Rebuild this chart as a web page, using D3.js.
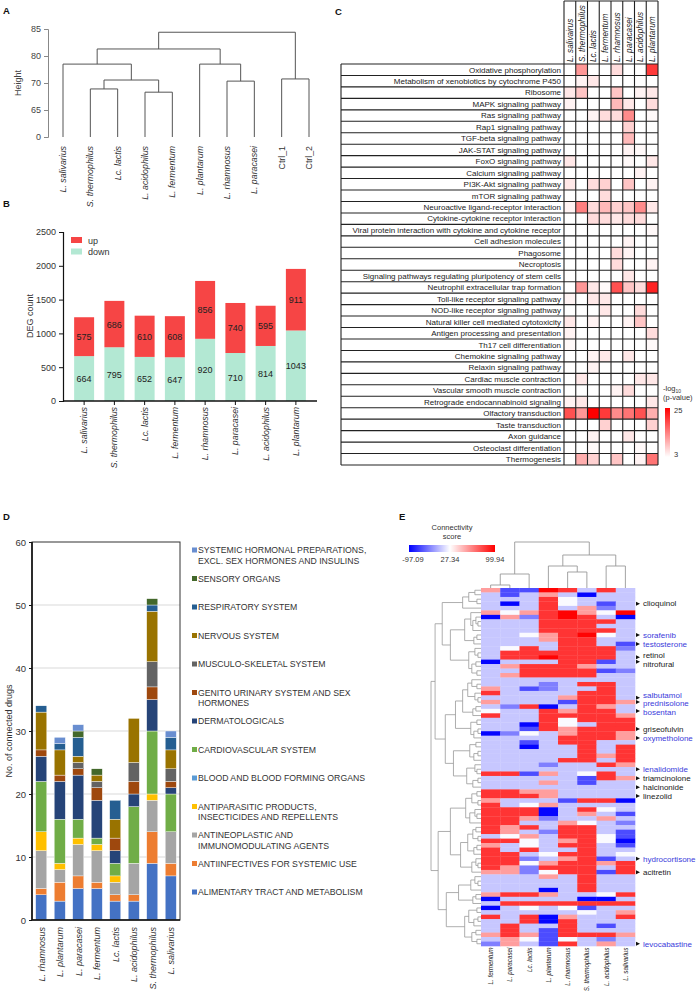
<!DOCTYPE html>
<html><head><meta charset="utf-8">
<script src="https://cdn.jsdelivr.net/npm/d3@7"></script>
<style>body{margin:0;background:#fff}svg{display:block}text{font-family:"Liberation Sans",Arial,sans-serif}</style>
</head><body><svg id="c" width="698" height="991"></svg>
<script>
// ---------------- DATA ----------------
// Panel A: hierarchical clustering (leaf order + merge height between adjacent leaves)
const dendroLeaves = ["L. salivarius","S. thermophilus","Lc. lactis","L. acidophilus","L. fermentum","L. plantarum","L. rhamnosus","L. paracasei","Ctrl_1","Ctrl_2"];
const dendroGapHeights = [77.0, 68.9, 71.1, 68.3, 81.3, 77.0, 70.7, 84.4, 71.5];
const heightTicks = [0, 65, 70, 80, 85];

// Panel B: DEG counts
const degStrains = ["L. salivarius","S. thermophilus","Lc. lactis","L. fermentum","L. rhamnosus","L. paracasei","L. acidophilus","L. plantarum"];
const degDown = [664, 795, 652, 647, 920, 710, 814, 1043];
const degUp   = [575, 686, 610, 608, 856, 740, 595, 911];
const degTicks = [0, 500, 1000, 1500, 2000, 2500];

// Panel C: KEGG enrichment, -log10(p-value)
const keggStrains = ["L. salivairus","S. thermophilus","Lc. lactis","L. fermentum","L. rhamnosus","L. paracasei","L. acidophilus","L. plantarum"];
const keggPathways = ["Oxidative phosphorylation","Metabolism of xenobiotics by cytochrome P450","Ribosome","MAPK signaling pathway","Ras signaling pathway","Rap1 signaling pathway","TGF-beta signaling pathway","JAK-STAT signaling pathway","FoxO signaling pathway","Calcium signaling pathway","PI3K-Akt signaling pathway","mTOR signaling pathway","Neuroactive ligand-receptor interaction","Cytokine-cytokine receptor interaction","Viral protein interaction with cytokine and cytokine receptor","Cell adhesion molecules","Phagosome","Necroptosis","Signaling pathways regulating pluripotency of stem cells","Neutrophil extracellular trap formation","Toll-like receptor signaling pathway","NOD-like receptor signaling pathway","Natural killer cell mediated cytotoxicity","Antigen processing and presentation","Th17 cell differentiation","Chemokine signaling pathway","Relaxin signaling pathway","Cardiac muscle contraction","Vascular smooth muscle contraction","Retrograde endocannabinoid signaling","Olfactory transduction","Taste transduction","Axon guidance","Osteoclast differentiation","Thermogenesis"];
const keggValues = [
 [0,12,0,0,6,0,0,20],
 [0,4,5,0,0,0,0,0],
 [5,8,0,0,8,0,4,5],
 [4,0,0,0,9,5,0,6],
 [0,0,4,6,6,13,0,3.5],
 [0,0,0,0,0,7,0,0],
 [0,0,0,0,0,9,0,0],
 [0,0,0,0,0,4,3.5,0],
 [5,0,0,0,0,3.5,0,5],
 [0,0,0,0,0,0,4,0],
 [5,0,6,7,0,8,0,4],
 [0,0,0,6,0,0,0,0],
 [4,14,6,9,7,8,13,5],
 [0,0,6,6,5,6,6,0],
 [0,0,0,0,0,0,0,3.5],
 [0,0,0,0,0,4,0,0],
 [0,0,0,0,6,4,0,0],
 [0,0,0,0,6,0,0,4],
 [0,0,0,0,0,5,0,0],
 [0,12,5,3.5,18,8,6,22],
 [4,0,5,5,0,0,0,0],
 [0,0,0,5,0,0,6,0],
 [5,0,4,0,0,4,8,0],
 [4,0,0,0,0,0,0,6],
 [3.5,0,0,0,0,0,0,3.5],
 [0,0,4,5,0,5,0,0],
 [0,0,4,0,0,0,0,0],
 [0,5,0,0,0,0,5,5],
 [0,0,0,0,4,6,0,0],
 [4,5,0,0,0,0,0,5],
 [18,12,25,20,13,15,18,10],
 [0,0,0,7,0,0,0,7],
 [0,0,4,0,0,5,0,0],
 [0,0,3.5,0,0,0,3.5,0],
 [0,10,7,0,8,0,4,15]
];
const keggLegendTicks = [3, 25];

// Panel D: connected drugs by ATC class (stack order bottom -> top)
const drugStrains = ["L. rhamnosus","L. plantarum","L. paracasei","L. fermentum","Lc. lactis","L. acidophilus","S. thermophilus","L. salivarius"];
const atcClasses = ["ALIMENTARY TRACT AND METABOLISM","ANTIINFECTIVES FOR SYSTEMIC USE","ANTINEOPLASTIC AND IMMUNOMODULATING AGENTS","ANTIPARASITIC PRODUCTS, INSECTICIDES AND REPELLENTS","BLOOD AND BLOOD FORMING ORGANS","CARDIOVASCULAR SYSTEM","DERMATOLOGICALS","GENITO URINARY SYSTEM AND SEX HORMONES","MUSCULO-SKELETAL SYSTEM","NERVOUS SYSTEM","RESPIRATORY SYSTEM","SENSORY ORGANS","SYSTEMIC HORMONAL PREPARATIONS, EXCL. SEX HORMONES AND INSULINS"];
const cntAlimentary   = [4,3,5,5,3,3,9,7];
const cntAntiinfect   = [1,3,2,1,1,1,5,2];
const cntAntineoplast = [6,2,5,5,2,5,5,5];
const cntAntiparasit  = [3,1,1,1,1,0,1,0];
const cntBlood        = [0,0,0,0,0,0,0,0];
const cntCardio       = [8,7,3,1,2,9,10,6];
const cntDermato      = [4,6,7,6,2,2,5,1];
const cntGenito       = [1,1,1,2,2,2,2,1];
const cntMusculo      = [0,0,1,1,0,3,4,2];
const cntNervous      = [6,4,1,1,3,7,8,3];
const cntRespiratory  = [1,1,3,0,3,0,1,2];
const cntSensory      = [0,0,1,1,0,0,1,0];
const cntSystemicHorm = [0,1,1,0,0,0,0,1];
const drugTicks = [0,10,20,30,40,50,60];

// Panel E: connectivity score heatmap
const eCols = ["L. fermentum","L. paracasei","Lc. lactis","L. plantarum","L. rhamnosus","S. thermophilus","L. acidophilus","L. salivarius"];
const eColGapHeights = [3,14,46,22,16,33,22];
const eScoreTicks = [-97.09, 27.34, 99.94];
const eScores = [
 [55,-60,-60,99,85,0,85,0],
 [0,-60,0,55,0,-95,0,0],
 [0,0,0,85,25,0,0,0],
 [0,-95,0,85,25,0,-60,0],
 [0,0,0,85,0,55,-35,0],
 [55,25,55,85,99,55,25,99],
 [-95,55,-35,85,99,85,0,-95],
 [0,0,0,85,85,85,85,0],
 [0,0,0,85,85,85,0,0],
 [0,0,0,85,85,85,85,0],
 [0,0,25,55,85,99,25,0],
 [0,0,0,55,85,85,0,0],
 [0,0,0,0,85,85,0,-60],
 [0,25,85,0,85,85,85,-35],
 [0,85,85,85,85,85,85,0],
 [0,85,85,99,85,85,85,0],
 [-95,0,0,0,85,85,-60,0],
 [0,55,85,85,85,55,0,0],
 [0,0,85,85,85,85,-60,-35],
 [0,55,85,85,85,85,0,0],
 [0,0,0,0,0,0,0,0],
 [0,0,0,-35,0,85,85,0],
 [55,0,-60,-35,0,0,85,0],
 [85,0,0,0,0,85,85,0],
 [0,0,0,0,55,85,85,0],
 [55,0,0,0,-60,85,85,55],
 [0,-35,85,-95,0,85,55,0],
 [25,0,0,85,55,85,85,0],
 [85,0,0,85,85,85,85,55],
 [0,0,0,85,25,85,85,85],
 [0,0,-95,85,25,0,85,85],
 [0,0,-60,85,55,85,85,85],
 [-95,-35,25,0,55,85,85,55],
 [0,0,0,0,85,85,85,55],
 [0,0,-60,0,85,85,0,0],
 [0,0,-95,0,0,85,0,85],
 [0,0,0,0,0,85,0,85],
 [0,0,0,0,0,85,55,85],
 [0,0,0,0,85,85,0,85],
 [0,0,0,-35,0,0,85,55],
 [0,0,0,0,0,0,0,0],
 [85,85,-60,55,0,25,85,0],
 [0,0,0,0,0,-60,85,55],
 [0,0,0,55,0,-60,0,0],
 [0,0,0,0,0,0,0,0],
 [85,85,55,55,0,0,0,0],
 [85,85,85,55,0,0,0,0],
 [55,0,0,0,-60,85,85,-95],
 [85,0,25,55,0,0,0,0],
 [85,85,85,-95,0,85,25,0],
 [85,85,85,-95,0,55,0,-60],
 [85,85,55,-35,0,0,55,0],
 [85,85,0,0,55,25,0,-35],
 [85,55,85,0,85,85,0,0],
 [85,55,0,-35,85,85,0,-60],
 [0,25,55,0,85,85,25,-60],
 [85,85,25,0,55,85,25,-95],
 [55,0,25,0,85,85,0,-60],
 [85,0,85,0,0,85,0,0],
 [85,85,0,25,85,85,0,25],
 [85,85,-35,0,55,85,-60,0],
 [85,85,25,55,85,85,55,85],
 [85,55,-35,85,85,85,0,85],
 [55,55,-35,25,85,85,-60,85],
 [0,0,0,55,0,85,0,0],
 [0,0,0,0,0,85,0,0],
 [0,0,0,0,0,85,0,0],
 [0,0,0,-95,0,85,0,0],
 [55,85,85,55,0,0,25,85],
 [-95,0,0,0,0,-95,-95,0],
 [0,85,85,85,85,85,85,85],
 [-95,0,25,0,25,-60,0,0],
 [0,0,0,0,0,25,0,55],
 [85,0,85,-95,55,0,0,85],
 [0,0,85,-95,85,0,0,0],
 [0,85,0,0,85,0,-60,0],
 [0,85,0,-60,85,0,0,0],
 [55,85,55,-60,85,85,85,55],
 [0,55,25,-60,25,0,-35,0],
 [-35,55,0,-60,85,0,55,0]
];
const eRowGapHeights = [6,12,4,18,38,10,5,3,8,16,4,7,30,6,3,12,5,9,4,45,9,4,13,6,3,18,5,8,25,4,10,3,7,35,5,11,3,7,27,6,4,14,3,8,49,4,9,3,15,6,4,11,30,5,8,3,13,4,7,20,5,3,9,42,6,3,10,22,5,8,34,4,12,3,7,16,5,9,4];
const eLabelNames = ["clioquinol","sorafenib","testosterone","retinol","nitrofural","salbutamol","prednisolone","bosentan","griseofulvin","oxymetholone","lenalidomide","triamcinolone","halcinonide","linezolid","hydrocortisone","acitretin","levocabastine"];
const eLabelRows  = [3,10,12,15,16,24,25,27,31,33,40,42,44,46,60,63,79];
const eHighlighted = ["sorafenib","testosterone","salbutamol","prednisolone","bosentan","oxymetholone","lenalidomide","hydrocortisone","levocabastine"];

// ---------------- HELPERS ----------------
const svg = d3.select("#c");
function letter(t,x,y){svg.append("text").attr("x",x).attr("y",y).attr("font-size",9.5).attr("font-weight","bold").attr("fill","#111").text(t);}
function buildTree(lo,hi,g){
  if(lo===hi) return {isLeaf:true,idx:lo,h:0};
  let k=lo; for(let i=lo;i<hi;i++) if(g[i]>g[k]) k=i;
  return {isLeaf:false,h:g[k],a:buildTree(lo,k,g),b:buildTree(k+1,hi,g)};
}
function layout(n,pos){ if(n.isLeaf){n.p=pos(n.idx);} else {layout(n.a,pos);layout(n.b,pos);n.p=(n.a.p+n.b.p)/2;} return n;}
function paths(n,out,vert,hs){
  if(n.isLeaf) return out;
  if(vert) out.push(`M${n.a.p},${hs(n.a.h)}V${hs(n.h)}H${n.b.p}V${hs(n.b.h)}`);
  else out.push(`M${hs(n.a.h)},${n.a.p}H${hs(n.h)}V${n.b.p}H${hs(n.b.h)}`);
  paths(n.a,out,vert,hs); paths(n.b,out,vert,hs); return out;
}

// ---------------- PANEL A ----------------
letter("A",3,14);
{
  const top=29,bot=137;
  const yA=d3.scaleLinear().domain(heightTicks).range(heightTicks.map((d,i)=>bot-i*(bot-top)/(heightTicks.length-1)));
  const xA=d3.scalePoint().domain(dendroLeaves).range([63,309]);
  const tree=layout(buildTree(0,dendroLeaves.length-1,dendroGapHeights),i=>xA(dendroLeaves[i]));
  svg.append("g").selectAll("path").data(paths(tree,[],true,yA)).join("path")
    .attr("d",d=>d).attr("fill","none").attr("stroke","#555").attr("stroke-width",1);
  const ax=svg.append("g").attr("transform","translate(48,0)").call(d3.axisLeft(yA).tickValues(heightTicks).tickSize(4).tickFormat(d3.format("d")));
  ax.selectAll("path,line").attr("stroke","#888");
  ax.selectAll("text").attr("font-size",9).attr("fill","#444").attr("font-family",'"Liberation Sans",Arial');
  svg.append("text").attr("transform","translate(21,83) rotate(-90)").attr("text-anchor","middle").attr("font-size",9).attr("fill","#444").text("Height");
  svg.append("g").selectAll("text").data(dendroLeaves).join("text")
    .attr("transform",d=>`translate(${xA(d)+3},146) rotate(-90)`).attr("text-anchor","end")
    .attr("font-size",8.8).attr("fill","#333").attr("font-style",d=>d.startsWith("Ctrl")?"normal":"italic").text(d=>d);
}

// ---------------- PANEL B ----------------
letter("B",3,207);
{
  const xB=d3.scaleBand().domain(degStrains).range([69,311]).paddingInner(0.34).paddingOuter(0.17);
  const yB=d3.scaleLinear().domain([0,2500]).range([401,232]);
  const g=svg.append("g");
  degStrains.forEach((s,i)=>{
    g.append("rect").attr("x",xB(s)).attr("width",xB.bandwidth()).attr("y",yB(degDown[i])).attr("height",yB(0)-yB(degDown[i])).attr("fill","#b3e8d3");
    g.append("rect").attr("x",xB(s)).attr("width",xB.bandwidth()).attr("y",yB(degDown[i]+degUp[i])).attr("height",yB(degDown[i])-yB(degDown[i]+degUp[i])).attr("fill","#f64545");
    g.append("text").attr("x",xB(s)+xB.bandwidth()/2).attr("y",(yB(degDown[i])+yB(degDown[i]+degUp[i]))/2+3.5).attr("text-anchor","middle").attr("font-size",9).attr("fill","#222").text(degUp[i]);
    g.append("text").attr("x",xB(s)+xB.bandwidth()/2).attr("y",(yB(0)+yB(degDown[i]))/2+3.5).attr("text-anchor","middle").attr("font-size",9).attr("fill","#222").text(degDown[i]);
  });
  const ax=svg.append("g").attr("transform","translate(63,0)").call(d3.axisLeft(yB).tickValues(degTicks).tickSize(4).tickFormat(d3.format("d")));
  ax.select(".domain").attr("stroke","#111").attr("stroke-width",1.2);
  ax.selectAll("line").attr("stroke","#111");
  ax.selectAll("text").attr("font-size",9).attr("fill","#333").attr("font-family",'"Liberation Sans",Arial');
  svg.append("line").attr("x1",63).attr("x2",317).attr("y1",yB(0)).attr("y2",yB(0)).attr("stroke","#111").attr("stroke-width",1.3);
  svg.append("g").selectAll("line").data(degStrains).join("line").attr("x1",d=>xB(d)+xB.bandwidth()/2).attr("x2",d=>xB(d)+xB.bandwidth()/2).attr("y1",yB(0)).attr("y2",yB(0)+4).attr("stroke","#111");
  svg.append("g").selectAll("text").data(degStrains).join("text")
    .attr("transform",d=>`translate(${xB(d)+xB.bandwidth()/2+3},407) rotate(-90)`).attr("text-anchor","end")
    .attr("font-size",8.8).attr("font-style","italic").attr("fill","#333").text(d=>d);
  svg.append("text").attr("transform","translate(33,316) rotate(-90)").attr("text-anchor","middle").attr("font-size",9).attr("fill","#333").text("DEG count");
  const leg=[["up","#f64545"],["down","#b3e8d3"]];
  leg.forEach((l,i)=>{
    svg.append("rect").attr("x",71).attr("y",237+i*11.5).attr("width",11).attr("height",6).attr("fill",l[1]);
    svg.append("text").attr("x",88).attr("y",243.5+i*11.5).attr("font-size",9).attr("fill","#333").text(l[0]);
  });
}

// ---------------- PANEL C ----------------
letter("C",335,15);
{
  const left=341, split=564, right=658, top=64, bottom=465;
  const xC=d3.scaleBand().domain(keggStrains).range([split,right]);
  const yC=d3.scaleBand().domain(keggPathways).range([top,bottom]);
  const col=d3.scaleLinear().domain(keggLegendTicks).range(["#ffffff","#ff0000"]).clamp(true);
  const g=svg.append("g");
  keggPathways.forEach((p,r)=>{
    keggStrains.forEach((s,c)=>{
      const v=keggValues[r][c];
      g.append("rect").attr("x",xC(s)).attr("y",yC(p)).attr("width",xC.bandwidth()).attr("height",yC.bandwidth()).attr("fill",v>=3?col(v):"#fff");
    });
    g.append("text").attr("x",split-3).attr("y",yC(p)+yC.bandwidth()/2+2.8).attr("text-anchor","end").attr("font-size",8).attr("fill","#222").text(p);
  });
  const lines=svg.append("g").attr("stroke","#222").attr("stroke-width",1.1);
  keggPathways.concat(["__end"]).forEach((p,i)=>{
    const y=top+i*yC.step();
    lines.append("line").attr("x1",left).attr("x2",right).attr("y1",y).attr("y2",y);
  });
  lines.append("line").attr("x1",left).attr("x2",left).attr("y1",top).attr("y2",bottom);
  keggStrains.concat(["__end"]).forEach((s,i)=>{
    const x=split+i*xC.step();
    lines.append("line").attr("x1",x).attr("x2",x).attr("y1",1).attr("y2",bottom);
  });
  lines.append("line").attr("x1",split).attr("x2",right).attr("y1",1).attr("y2",1);
  svg.append("g").selectAll("text").data(keggStrains).join("text")
    .attr("transform",d=>`translate(${xC(d)+xC.bandwidth()/2+3},62) rotate(-90)`).attr("text-anchor","start")
    .attr("font-size",8.2).attr("font-style","italic").attr("fill","#222").text(d=>d);
  // legend
  const defs=svg.append("defs");
  const gr=defs.append("linearGradient").attr("id","gC").attr("x1",0).attr("y1",1).attr("x2",0).attr("y2",0);
  gr.append("stop").attr("offset","0%").attr("stop-color","#ffffff");
  gr.append("stop").attr("offset","100%").attr("stop-color","#ff0000");
  const ly=d3.scaleLinear().domain(keggLegendTicks).range([457,408]);
  svg.append("rect").attr("x",665).attr("y",ly(25)).attr("width",5).attr("height",ly(3)-ly(25)).attr("fill","url(#gC)");
  keggLegendTicks.forEach(t=>svg.append("text").attr("x",674).attr("y",ly(t)+(t===25?5:0)).attr("font-size",7.5).attr("fill","#333").text(t));
  const lt=svg.append("text").attr("x",663).attr("y",391).attr("font-size",7.5).attr("fill","#333");
  lt.append("tspan").text("-log");
  lt.append("tspan").attr("font-size",5).attr("dy",2).text("10");
  svg.append("text").attr("x",663).attr("y",400).attr("font-size",7.5).attr("fill","#333").text("(p-value)");
}

// ---------------- PANEL D ----------------
letter("D",3,520);
{
  const L=32,R=180,T=542,B=920;
  const xD=d3.scaleBand().domain(drugStrains).range([L,R]).paddingInner(0.4).paddingOuter(0.2);
  const yD=d3.scaleLinear().domain([0,60]).range([B,T]);
  const atcColors=["#4472c4","#ed7d31","#a5a5a5","#ffc000","#5b9bd5","#70ad47","#264478","#9e480e","#636363","#997300","#255e91","#43682b","#698ed0"];
  const series=[cntAlimentary,cntAntiinfect,cntAntineoplast,cntAntiparasit,cntBlood,cntCardio,cntDermato,cntGenito,cntMusculo,cntNervous,cntRespiratory,cntSensory,cntSystemicHorm];
  const rows=drugStrains.map((s,i)=>{const o={strain:s}; atcClasses.forEach((c,k)=>o[c]=series[k][i]); return o;});
  const stack=d3.stack().keys(atcClasses)(rows);
  svg.append("g").selectAll("line").data(drugTicks.filter(t=>t>0&&t<60)).join("line")
    .attr("x1",L).attr("x2",R).attr("y1",d=>yD(d)).attr("y2",d=>yD(d)).attr("stroke","#d9d9d9").attr("stroke-width",1);
  svg.append("g").selectAll("g").data(stack).join("g").attr("fill",(d,i)=>atcColors[i])
    .selectAll("rect").data(d=>d.filter(v=>v[1]>v[0])).join("rect")
    .attr("x",d=>xD(d.data.strain)).attr("width",xD.bandwidth()).attr("y",d=>yD(d[1])).attr("height",d=>yD(d[0])-yD(d[1]))
    .attr("stroke","#ffffff").attr("stroke-width",0.4);
  svg.append("rect").attr("x",L).attr("y",T).attr("width",R-L).attr("height",B-T).attr("fill","none").attr("stroke","#333").attr("stroke-width",1);
  svg.append("line").attr("x1",L).attr("x2",L).attr("y1",T).attr("y2",B).attr("stroke","#111").attr("stroke-width",1.6);
  svg.append("line").attr("x1",L).attr("x2",R).attr("y1",B).attr("y2",B).attr("stroke","#111").attr("stroke-width",1.6);
  const ax=svg.append("g").attr("transform",`translate(${L},0)`).call(d3.axisLeft(yD).tickValues(drugTicks).tickSize(3));
  ax.select(".domain").remove();
  ax.selectAll("line").attr("stroke","#111");
  ax.selectAll("text").attr("font-size",9.5).attr("fill","#333").attr("font-family",'"Liberation Sans",Arial');
  svg.append("text").attr("transform",`translate(12,${(T+B)/2}) rotate(-90)`).attr("text-anchor","middle").attr("font-size",9).attr("fill","#333").text("No. of connected drugs");
  svg.append("g").selectAll("text").data(drugStrains).join("text")
    .attr("transform",d=>`translate(${xD(d)+xD.bandwidth()/2+3.3},927) rotate(-90)`).attr("text-anchor","end")
    .attr("font-size",9).attr("font-style","italic").attr("fill","#333").text(d=>d);
  // legend (top item = last class)
  const legG=svg.append("g");
  atcClasses.slice().reverse().forEach((c,i)=>{
    const y=553+i*28.5;
    const ci=atcClasses.length-1-i;
    legG.append("rect").attr("x",192).attr("y",y-5.5).attr("width",5).attr("height",5).attr("fill",atcColors[ci]);
    const t=legG.append("text").attr("x",198).attr("y",y).attr("font-size",8.7).attr("fill","#333");
    const words=c.split(" "); let line=[]; let tsp=t.append("tspan").attr("x",198);
    words.forEach(w=>{
      line.push(w); tsp.text(line.join(" "));
      if(tsp.node().getComputedTextLength()>181 && line.length>1){
        line.pop(); tsp.text(line.join(" ")); line=[w];
        tsp=t.append("tspan").attr("x",198).attr("dy",10.5).text(w);
      }
    });
  });
}

// ---------------- PANEL E ----------------
letter("E",399,520);
{
  const L=481,R=635,T=588,B=946;
  const xE=d3.scaleBand().domain(eCols).range([L,R]);
  const yE=d3.scaleBand().domain(d3.range(eScores.length)).range([T,B]);
  const col=d3.scaleLinear().domain(eScoreTicks).range(["#0000ff","#ffffff","#ff0000"]).clamp(true);
  const g=svg.append("g");
  eScores.forEach((row,r)=>row.forEach((v,c)=>{
    g.append("rect").attr("x",xE(eCols[c])).attr("y",yE(r)).attr("width",xE.bandwidth()+0.3).attr("height",yE.bandwidth()+0.3).attr("fill",col(v));
  }));
  // column dendrogram
  const hC=d3.scaleLinear().domain([0,d3.max(eColGapHeights)]).range([T,T-46]);
  const ct=layout(buildTree(0,eCols.length-1,eColGapHeights),i=>xE(eCols[i])+xE.bandwidth()/2);
  svg.append("g").selectAll("path").data(paths(ct,[],true,hC)).join("path").attr("d",d=>d).attr("fill","none").attr("stroke","#999").attr("stroke-width",0.9);
  // row dendrogram
  const hR=d3.scaleLinear().domain([0,d3.max(eRowGapHeights)]).range([L,431]);
  const rt=layout(buildTree(0,eScores.length-1,eRowGapHeights),i=>yE(i)+yE.bandwidth()/2);
  svg.append("g").selectAll("path").data(paths(rt,[],false,hR)).join("path").attr("d",d=>d).attr("fill","none").attr("stroke","#999").attr("stroke-width",0.8);
  // column labels
  svg.append("g").selectAll("text").data(eCols).join("text")
    .attr("transform",d=>`translate(${xE(d)+xE.bandwidth()/2+2.5},947.5) rotate(-90)`).attr("text-anchor","end")
    .attr("font-size",6.3).attr("font-style","italic").attr("fill","#222").text(d=>d);
  // row labels with arrows
  const items=eLabelNames.map((n,i)=>({n,ay:yE(eLabelRows[i])+yE.bandwidth()/2,y:yE(eLabelRows[i])+yE.bandwidth()/2}));
  for(let it=0;it<60;it++) for(let i=1;i<items.length;i++){const d=items[i].y-items[i-1].y; if(d<8.6){const s=(8.6-d)/2; items[i].y+=s; items[i-1].y-=s;}}
  items.forEach(o=>{
    svg.append("path").attr("d",`M636,${o.ay-2}L640,${o.ay}L636,${o.ay+2}Z`).attr("fill","#111");
    svg.append("text").attr("x",643).attr("y",o.y+2.8).attr("font-size",8).attr("fill",eHighlighted.includes(o.n)?"#3b3bdb":"#222").text(o.n);
  });
  // colour bar
  const defs=svg.append("defs");
  const gr=defs.append("linearGradient").attr("id","gE");
  const cb=d3.scaleLinear().domain(eScoreTicks).range([409,450,495]);
  eScoreTicks.forEach((t,i)=>gr.append("stop").attr("offset",((cb(t)-409)/(495-409)*100)+"%").attr("stop-color",["#0000ff","#ffffff","#ff0000"][i]));
  svg.append("rect").attr("x",409).attr("y",545).attr("width",86).attr("height",7).attr("fill","url(#gE)");
  eScoreTicks.forEach(t=>svg.append("text").attr("x",cb(t)+(t<0?4:0)).attr("y",562).attr("text-anchor","middle").attr("font-size",7.5).attr("fill","#333").text(t.toFixed(2)));
  svg.append("text").attr("x",452).attr("y",530).attr("text-anchor","middle").attr("font-size",7.5).attr("fill","#333").text("Connectivity");
  svg.append("text").attr("x",452).attr("y",539).attr("text-anchor","middle").attr("font-size",7.5).attr("fill","#333").text("score");
}
</script></body></html>
